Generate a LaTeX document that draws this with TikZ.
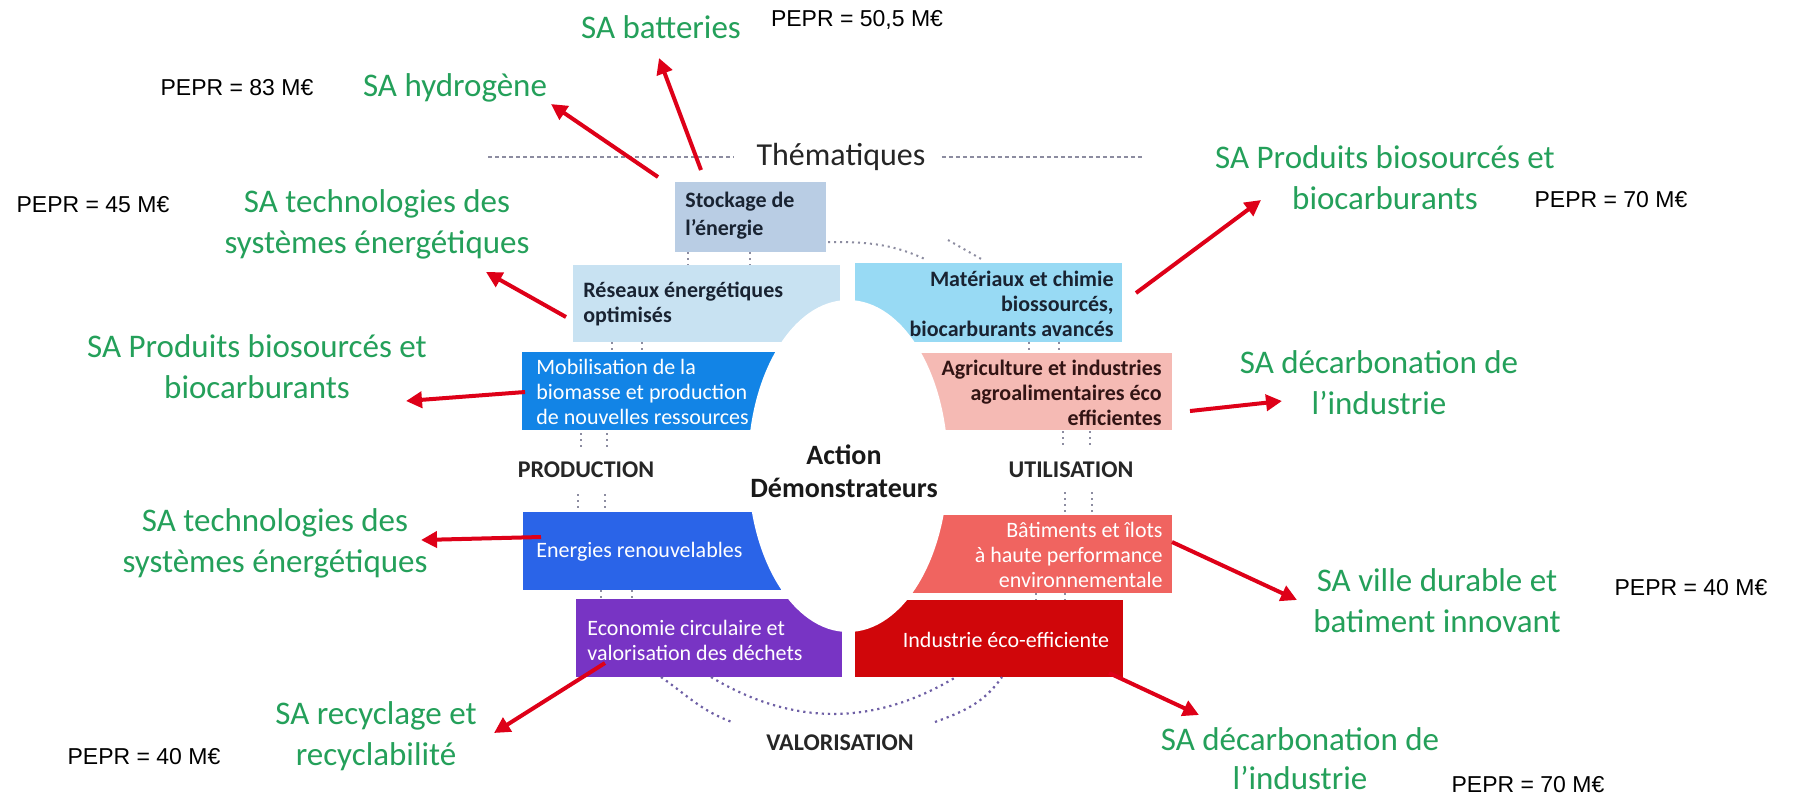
\documentclass[tikz,border=0pt]{standalone}
\usepackage{fontspec}
\setmainfont{Carlito}
\newfontfamily\arialfont{Liberation Sans}
\usetikzlibrary{arrows.meta,shapes.geometric,calc}
\definecolor{cstock}{RGB}{185,205,228}
\definecolor{cres}{RGB}{200,226,242}
\definecolor{cmob}{RGB}{18,132,230}
\definecolor{cener}{RGB}{42,100,232}
\definecolor{cecon}{RGB}{120,52,196}
\definecolor{cindus}{RGB}{208,6,10}
\definecolor{cbat}{RGB}{240,100,96}
\definecolor{cagri}{RGB}{245,186,180}
\definecolor{cmat}{RGB}{152,218,244}
\definecolor{sagreen}{RGB}{36,160,90}
\definecolor{arrowred}{RGB}{222,0,24}
\definecolor{boxdark}{RGB}{25,35,50}
\definecolor{agritext}{RGB}{50,20,20}
\definecolor{dotgray}{RGB}{140,140,160}
\definecolor{dotpurple}{RGB}{110,95,165}
\begin{document}
\begin{tikzpicture}[x=0.5pt,y=-0.5pt,
  sa/.style={text=sagreen,font=\fontsize{16.5}{20.5}\selectfont,align=center,inner sep=0pt},
  pepr/.style={font=\arialfont\fontsize{11.5}{13}\selectfont,inner sep=0pt},
  boxbg/.style={inner sep=0pt,outer sep=0pt,draw=none},
  dtext/.style={font=\bfseries\fontsize{11}{12.5}\selectfont,text=boxdark,inner sep=0pt},
  wtext/.style={font=\fontsize{11}{12.5}\selectfont,text=white,inner sep=0pt},
  phase/.style={font=\bfseries\fontsize{12}{14}\selectfont,text=black!85,inner sep=0pt},
  redarrow/.style={draw=arrowred,line width=2pt,-{Triangle[length=8pt,width=8pt]}},
  dotc/.style={draw=dotgray,line width=1pt,dotted},
  dotp/.style={draw=dotpurple,line width=1.1pt,dotted},
  dashline/.style={draw=dotgray,line width=0.7pt,dash pattern=on 2pt off 1.5pt}]
\useasboundingbox (0,0) rectangle (1794,800);
\fill[white] (0,0) rectangle (1794,800);

% boxes
\node[boxbg,fill=cstock,minimum width=75.5pt,minimum height=35pt] (stock) at (750.5,217) {};
\node[boxbg,fill=cres,minimum width=133.5pt,minimum height=38.5pt] (res) at (706.5,303.5) {};
\node[boxbg,fill=cmob,minimum width=129pt,minimum height=39pt] (mob) at (651,391) {};
\node[boxbg,fill=cener,minimum width=129pt,minimum height=39pt] (ener) at (652,551) {};
\node[boxbg,fill=cecon,minimum width=133pt,minimum height=39pt] (econ) at (709,638) {};
\node[boxbg,fill=cindus,minimum width=134pt,minimum height=38.5pt] (indus) at (989,638.5) {};
\node[boxbg,fill=cbat,minimum width=130pt,minimum height=39pt] (bat) at (1042,554) {};
\node[boxbg,fill=cagri,minimum width=126pt,minimum height=38.5pt] (agri) at (1046,391.5) {};
\node[boxbg,fill=cmat,minimum width=133.5pt,minimum height=39.5pt] (mat) at (988.5,302.5) {};

% central hole
\node[ellipse,fill=white,draw=none,inner sep=0pt,minimum width=100pt,minimum height=166pt] (hole) at (848,466) {};

% box texts
\node[dtext,anchor=west,align=left,font=\bfseries\fontsize{11}{14}\selectfont] (tstock) at (685,216) {Stockage de\\l’énergie};
\node[dtext,anchor=west,align=left] (tres) at (583,304) {Réseaux énergétiques\\optimisés};
\node[wtext,anchor=west,align=left] (tmob) at (536,392) {Mobilisation de la\\biomasse et production\\de nouvelles ressources};
\node[wtext,anchor=west] (tener) at (536,552) {Energies renouvelables};
\node[wtext,anchor=west,align=left] (tecon) at (587,640) {Economie circulaire et\\valorisation des déchets};
\node[wtext] (tindus) at (1006,640) {Industrie éco-efficiente};
\node[wtext,anchor=east,align=right] (tbat) at (1163,555) {Bâtiments et îlots\\à haute performance\\environnementale};
\node[dtext,anchor=east,align=right,text=agritext] (tagri) at (1162,393) {Agriculture et industries\\agroalimentaires éco\\efficientes};
\node[dtext,anchor=east,align=right] (tmat) at (1114,304) {Matériaux et chimie\\biossourcés,\\biocarburants avancés};

% center and phase labels
\node[font=\bfseries\fontsize{14}{16.5}\selectfont,align=center,text=black!90,inner sep=0pt] (act) at (844,471) {Action\\Démonstrateurs};
\node[phase] (prod) at (586,470) {PRODUCTION};
\node[phase] (util) at (1071,470) {UTILISATION};
\node[phase] (valo) at (840,743) {VALORISATION};
\node[font=\fontsize{16}{18}\selectfont,text=black!85,inner sep=0pt] (them) at (841,157) {Thématiques};
\coordinate (dl1) at (488,157);
\coordinate (dl2) at (1143,157);
\draw[dashline,shorten >=11pt] (dl1) -- (them.west);
\draw[dashline,shorten <=8pt] (them.east) -- (dl2);

% SA labels
\node[sa] (sabat) at (661,27) {SA batteries};
\node[sa] (sahyd) at (455,88) {SA hydrogène};
\node[sa] (satec1) at (377,224) {SA technologies des\\systèmes énergétiques};
\node[sa] (sapro1) at (257,367) {SA Produits biosourcés et\\biocarburants};
\node[sa] (satec2) at (275,543) {SA technologies des\\systèmes énergétiques};
\node[sa] (sarec) at (376,736) {SA recyclage et\\recyclabilité};
\node[sa] (sapro2) at (1385,178) {SA Produits biosourcés et\\biocarburants};
\node[sa] (sadec1) at (1379,383) {SA décarbonation de\\l’industrie};
\node[sa] (savil) at (1437,601) {SA ville durable et\\batiment innovant};
\node[sa,font=\fontsize{16.5}{19.5}\selectfont] (sadec2) at (1300,759) {SA décarbonation de\\l’industrie};

% PEPR labels
\node[pepr] (p505) at (857,20) {PEPR = 50,5 M€};
\node[pepr] (p83) at (237,88) {PEPR = 83 M€};
\node[pepr] (p45) at (93,205) {PEPR = 45 M€};
\node[pepr] (p70a) at (1611,200) {PEPR = 70 M€};
\node[pepr] (p40a) at (144,757) {PEPR = 40 M€};
\node[pepr] (p40b) at (1691,588) {PEPR = 40 M€};
\node[pepr] (p70b) at (1528,785) {PEPR = 70 M€};

% small dotted links
\draw[dotc] ($(stock.south west)+(13,0)$) -- ($(res.north west)+(115,0)$);
\draw[dotc] ($(stock.south west)+(75,0)$) -- ($(res.north west)+(177,0)$);
\draw[dotc] ($(res.south west)+(39,0)$) -- ($(mob.north west)+(90,0)$);
\draw[dotc] ($(res.south west)+(69,0)$) -- ($(mob.north west)+(120,0)$);
\draw[dotc,shorten <=1.5pt,shorten >=7pt] ($(mob.south west)+(59,0)$) -- ($(prod.north)+(-5,0)$);
\draw[dotc,shorten <=1.5pt,shorten >=7pt] ($(mob.south west)+(85,0)$) -- ($(prod.north)+(21,0)$);
\draw[dotc,shorten <=8pt,shorten >=0.5pt] ($(prod.south)+(-8,0)$) -- ($(ener.north west)+(55,0)$);
\draw[dotc,shorten <=8pt,shorten >=0.5pt] ($(prod.south)+(19,0)$) -- ($(ener.north west)+(82,0)$);
\draw[dotc] ($(ener.south west)+(78,0)$) -- ($(econ.north west)+(25,0)$);
\draw[dotc] ($(ener.south west)+(109,0)$) -- ($(econ.north west)+(56,0)$);
\draw[dotc] ($(mat.south west)+(174,0)$) -- ($(agri.north west)+(109,0)$);
\draw[dotc] ($(mat.south west)+(204,0)$) -- ($(agri.north west)+(139,0)$);
\draw[dotc,shorten <=0.5pt,shorten >=8pt] ($(agri.south west)+(143,0)$) -- ($(util.north)+(-8,0)$);
\draw[dotc,shorten <=0.5pt,shorten >=8pt] ($(agri.south west)+(170,0)$) -- ($(util.north)+(19,0)$);
\draw[dotc,shorten <=7pt,shorten >=0.5pt] ($(util.south)+(-6,0)$) -- ($(bat.north west)+(153,0)$);
\draw[dotc,shorten <=7pt,shorten >=0.5pt] ($(util.south)+(21,0)$) -- ($(bat.north west)+(180,0)$);
\draw[dotc] ($(bat.south west)+(124,0)$) -- ($(indus.north west)+(181,0)$);
\draw[dotc] ($(bat.south west)+(153,0)$) -- ($(indus.north west)+(210,0)$);
% curved dotted links top
\draw[dotc] ($(stock.south east)+(2,-10)$) to[out=0,in=155] ($(mat.north west)+(72,-3)$);
\draw[dotc] ($(mat.north west)+(93,-23)$) -- ($(mat.north west)+(128,-3)$);
% bottom valorisation curves
\coordinate (cv1) at (732,722);
\coordinate (cv3) at (935,722);
\draw[dotp] ($(econ.south west)+(85,0)$) to[out=-35,in=160] (cv1);
\draw[dotp] ($(econ.south west)+(135,0)$) to[out=-31,in=-149] ($(indus.south west)+(101,0)$);
\draw[dotp] (cv3) to[out=20,in=-125] ($(indus.south west)+(147,0)$);

% red arrows
\coordinate (hyT) at (658,177); \coordinate (hyH) at (551,104);
\coordinate (baT) at (701,170); \coordinate (baH) at (659,58);
\coordinate (reT) at (566,317); \coordinate (reH) at (486,272);
\coordinate (moT) at (525,392); \coordinate (moH) at (406,401);
\coordinate (enT) at (541,537); \coordinate (enH) at (421,540);
\coordinate (ecT) at (605,663); \coordinate (ecH) at (494,733);
\coordinate (maT) at (1136,293); \coordinate (maH) at (1261,200);
\coordinate (agT) at (1190,411); \coordinate (agH) at (1282,401);
\coordinate (btT) at (1172,542); \coordinate (btH) at (1297,600);
\coordinate (inT) at (1109,673); \coordinate (inH) at (1199,715);
\draw[redarrow] (hyT) -- (hyH);
\draw[redarrow] (baT) -- (baH);
\draw[redarrow] (reT) -- (reH);
\draw[redarrow] (moT) -- (moH);
\draw[redarrow] (enT) -- (enH);
\draw[redarrow] (ecT) -- (ecH);
\draw[redarrow] (maT) -- (maH);
\draw[redarrow] (agT) -- (agH);
\draw[redarrow] (btT) -- (btH);
\draw[redarrow] (inT) -- (inH);
\end{tikzpicture}
\end{document}
